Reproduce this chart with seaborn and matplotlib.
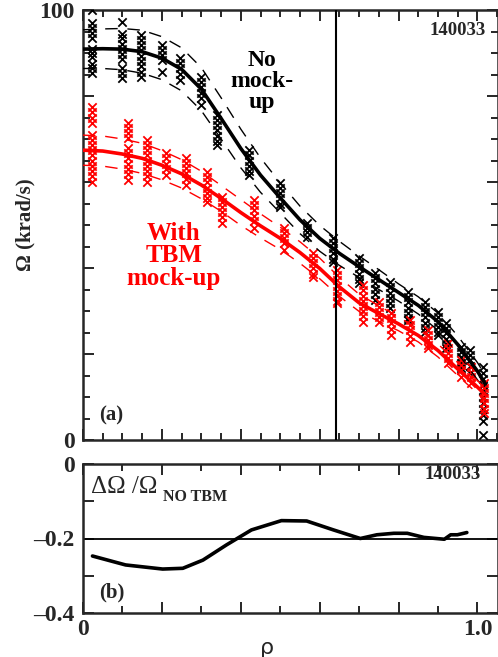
import numpy as np
import pandas as pd
import matplotlib
matplotlib.use("Agg")
import matplotlib.pyplot as plt
from matplotlib.ticker import MultipleLocator, FixedLocator
import seaborn as sns

# fitted rotation profiles (krad/s) vs rho
rho_fit = [0, 0.05, 0.1, 0.15, 0.2, 0.25, 0.3, 0.35, 0.4, 0.45, 0.5, 0.55,
           0.6, 0.65, 0.7, 0.75, 0.8, 0.85, 0.9, 0.95, 1.0, 1.02]
no_tbm_fit = [90.9, 91.0, 90.9, 90.3, 88.8, 86.2, 81.6, 74.8, 67.8, 61.6, 56.3, 51.2,
              46.9, 43.4, 40.3, 37.3, 34.3, 31.3, 27.5, 22.2, 16.0, 13.0]
tbm_fit = [67.4, 67.2, 66.5, 65.5, 63.9, 61.9, 59.3, 56.2, 52.9, 49.8, 46.9, 43.6,
           39.9, 35.6, 31.9, 29.4, 27.0, 24.3, 20.8, 16.5, 12.3, 10.5]
no_tbm_err = [4.5, 4.6, 4.8, 5.0, 5.0, 5.0, 5.0, 4.8, 4.5, 4.0, 3.5, 3.2,
              3.0, 2.8, 2.5, 2.3, 2.0, 2.0, 2.0, 2.0, 2.0, 2.0]
tbm_err = [3.5, 3.5, 3.5, 3.5, 3.4, 3.3, 3.2, 3.0, 3.0, 2.8, 2.6, 2.5,
           2.4, 2.2, 2.0, 1.8, 1.6, 1.5, 1.5, 1.5, 1.5, 1.5]

# measured points, one column of points per channel
no_tbm_rho = [0.022, 0.10, 0.147, 0.20, 0.245, 0.30, 0.34, 0.42, 0.50, 0.568, 0.634,
              0.70, 0.74, 0.778, 0.823, 0.866, 0.90, 0.92, 0.958, 0.98, 1.015]
no_tbm_pts = [
    [100, 97, 95.8, 94.6, 93.4, 91, 90, 89, 87.5, 86.4, 85.3],
    [97.2, 94.5, 93.4, 92.2, 91, 89.8, 88.5, 86.5, 85.3, 84.2],
    [94.2, 93, 91.8, 90.6, 89.4, 88.2, 87, 85.6, 84.4],
    [91.9, 90.8, 89.6, 88.4, 85.5],
    [88.8, 87.6, 86.5, 85.2, 83.7],
    [84.4, 83.2, 82, 80.8, 79.6, 77.9],
    [75.6, 74.4, 73.2, 72, 70.8, 69.6, 68.6],
    [67.4, 66.2, 65, 63.8, 62.6, 61.6],
    [59.8, 58.6, 57.4, 56.2, 55, 54.2],
    [50.5, 49.4, 48.3, 47.2],
    [47, 45.8, 44.6, 43.4, 42.2, 41.4],
    [42.3, 41.1, 39.9, 38.7, 37.5, 36.5],
    [38.8, 37.6, 36.4, 35.2, 34, 32.6],
    [36.7, 35.5, 34.3, 33.1, 31.9, 30.7],
    [34.4, 33.2, 32, 30.8, 29.6, 28.4, 27.9],
    [32.1, 30.9, 29.7, 28.5, 27.3, 26.1, 25.1],
    [29.8, 28.6, 27.4, 26.2, 25.2, 24.4],
    [27.2, 26, 24.8, 23.6, 22.4, 21.4],
    [21.6, 20.4, 19.2, 18, 16.7],
    [20.9, 19.7, 18.5, 17.2, 15.6],
    [17, 15.6, 14.2, 12.8, 11.4, 10, 8.6, 7.2, 5.8, 4.4, 1.2],
]
tbm_rho = [0.023, 0.115, 0.163, 0.21, 0.26, 0.315, 0.353, 0.433, 0.51, 0.584,
           0.645, 0.71, 0.75, 0.78, 0.828, 0.874, 0.925, 0.958, 0.983, 1.016]
tbm_pts = [
    [77.4, 76.2, 75, 73.7, 71, 69.8, 68.6, 67.4, 66.2, 65, 63.8, 62.6, 61.4, 60],
    [73.7, 72.5, 71.3, 70.2, 67.9, 66.7, 65.5, 64.3, 63.1, 61.9, 60.5],
    [69.8, 68.6, 67.4, 66.2, 65, 63.8, 62.6, 61.4, 60],
    [66.7, 65.5, 64.3, 63.1, 61.6],
    [65.6, 64.4, 63.2, 62, 60.8, 59.3],
    [62.3, 61.1, 59.9, 58.7, 57.5, 56.3, 55.3],
    [56.6, 55.4, 54.2, 53, 51.8, 50.5],
    [55.8, 54.6, 53.4, 52.2, 51, 49.3],
    [49.3, 48.1, 46.9, 45.7, 44.2],
    [43.5, 42.3, 41.1, 39.9, 38.7, 37.9],
    [39.5, 38.3, 37.1, 35.9, 34.7, 33.5, 32.3, 31.9],
    [36, 34.8, 33.6, 32.4, 31.2, 30, 28.8, 27.4],
    [32.1, 30.9, 29.7, 28.5, 27.4],
    [29.5, 28.3, 27.1, 25.9, 24.4],
    [27.9, 26.7, 25.5, 24.3, 22.8],
    [25.6, 24.4, 23.2, 22.2, 21.4],
    [22.6, 21.4, 20.2, 19, 17.9],
    [18.6, 17.4, 16.2, 14.7],
    [17, 15.8, 14.6, 13.3],
    [13.3, 12.1, 10.9, 9.7, 8.5, 7.3, 6.3],
]

# relative change dOmega/Omega_NO_TBM
rho_ratio = [0.024, 0.108, 0.202, 0.253, 0.304, 0.364, 0.427, 0.503, 0.567, 0.635,
             0.703, 0.745, 0.788, 0.822, 0.864, 0.916, 0.932, 0.949, 0.973]
ratio = [-0.247, -0.271, -0.282, -0.280, -0.258, -0.217, -0.177, -0.152, -0.153, -0.177,
         -0.200, -0.190, -0.186, -0.186, -0.197, -0.202, -0.190, -0.190, -0.184]

rho_mark = 0.642
shot = "140033"


def explode(rhos, cols):
    xs, ys = [], []
    for r, c in zip(rhos, cols):
        xs += [r] * len(c)
        ys += c
    return pd.DataFrame({"rho": xs, "omega": ys})


sns.set_style("ticks")
plt.rcParams["font.family"] = ["Liberation Serif", "DejaVu Serif"]
plt.rcParams["font.weight"] = "bold"
plt.rcParams["xtick.direction"] = "in"
plt.rcParams["ytick.direction"] = "in"

fig = plt.figure(figsize=(4.98, 6.57), dpi=100)
ax = fig.add_axes([83 / 498, 217 / 657, 415 / 498, 430 / 657])
ax2 = fig.add_axes([83 / 498, 44 / 657, 415 / 498, 149 / 657])

fit = pd.DataFrame({"rho": rho_fit, "no": no_tbm_fit, "tbm": tbm_fit})
fit["no_hi"] = fit["no"] + np.array(no_tbm_err)
fit["no_lo"] = fit["no"] - np.array(no_tbm_err)
fit["tbm_hi"] = fit["tbm"] + np.array(tbm_err)
fit["tbm_lo"] = fit["tbm"] - np.array(tbm_err)

pts_no = explode(no_tbm_rho, no_tbm_pts)
pts_tbm = explode(tbm_rho, tbm_pts)

sns.scatterplot(data=pts_no, x="rho", y="omega", ax=ax, marker="x", color="black",
                s=36, linewidth=1.3, legend=False, zorder=3)
sns.scatterplot(data=pts_tbm, x="rho", y="omega", ax=ax, marker="x", color="red",
                s=36, linewidth=1.3, legend=False, zorder=3)

for col, c in [("no_hi", "black"), ("no_lo", "black"), ("tbm_hi", "red"), ("tbm_lo", "red")]:
    sns.lineplot(data=fit, x="rho", y=col, ax=ax, color=c, lw=1.0,
                 zorder=4).lines[-1].set_linestyle((0, (9, 7)))
sns.lineplot(data=fit, x="rho", y="no", ax=ax, color="black", lw=2.6, zorder=5)
sns.lineplot(data=fit, x="rho", y="tbm", ax=ax, color="red", lw=2.6, zorder=5)
ax.axvline(rho_mark, color="black", lw=1.5, zorder=6)

ax.set_xlim(0, 1.052)
ax.set_ylim(0, 100)
ax.xaxis.set_major_locator(MultipleLocator(0.2))
ax.xaxis.set_minor_locator(MultipleLocator(0.05))
ax.yaxis.set_major_locator(MultipleLocator(20))
ax.yaxis.set_minor_locator(MultipleLocator(5))
ax.set_xticklabels([])
ax.set_yticks([0, 20, 40, 60, 80, 100])
ax.set_yticklabels(["0", "", "", "", "", "100"])
ax.set_xlabel("")
ax.set_ylabel("Ω (krad/s)", fontsize=15, fontweight="bold", labelpad=3)

ax.text(0.453, 83.3, "No\nmock-\nup", ha="center", va="center", fontsize=17,
        fontweight="bold", color="black", linespacing=1.0)
ax.text(0.23, 42.8, "With\nTBM\nmock-up", ha="center", va="center", fontsize=18,
        fontweight="bold", color="red", linespacing=0.95)
ax.text(1.022, 95.2, shot, ha="right", va="center", fontsize=13.5, fontweight="bold")
ax.text(0.042, 5.8, "(a)", ha="left", va="center", fontsize=15, fontweight="bold")

# panel b
ax2.axhline(-0.2, color="black", lw=1.3)
sns.lineplot(x=rho_ratio, y=ratio, ax=ax2, color="black", lw=2.6)
ax2.set_xlim(0, 1.052)
ax2.set_ylim(-0.4, 0)
ax2.xaxis.set_major_locator(MultipleLocator(0.2))
ax2.xaxis.set_minor_locator(MultipleLocator(0.1))
ax2.yaxis.set_major_locator(FixedLocator([-0.4, -0.3, -0.2, -0.1, 0]))
ax2.set_yticklabels(["–0.4", "", "–0.2", "", "0"])
ax2.set_xticks([0, 0.2, 0.4, 0.6, 0.8, 1.0])
ax2.set_xticklabels(["0", "", "", "", "", "1.0"])
ax2.set_ylabel("")
ax2.set_xlabel("ρ", fontsize=16, fontweight="normal", family="DejaVu Sans", labelpad=0)
ax2.xaxis.set_label_coords(0.444, -0.17)

ax2.text(0.02, -0.078, "ΔΩ /Ω", ha="left", va="baseline", fontsize=18,
         fontweight="normal")
ax2.text(0.204, -0.099, "NO TBM", ha="left", va="baseline", fontsize=11.5,
         fontweight="bold")
ax2.text(1.009, -0.027, shot, ha="right", va="center", fontsize=13.5, fontweight="bold")
ax2.text(0.042, -0.344, "(b)", ha="left", va="center", fontsize=15, fontweight="bold")

for a in (ax, ax2):
    for s in a.spines.values():
        s.set_linewidth(1.8)
        s.set_visible(True)
    a.tick_params(which="both", top=True, right=True, width=1.4,
                  labelsize=17, pad=6)
    a.tick_params(which="major", length=8)
    a.tick_params(which="minor", length=5)
ax2.tick_params(axis="x", pad=4)

fig.savefig("out.png", dpi=100)
